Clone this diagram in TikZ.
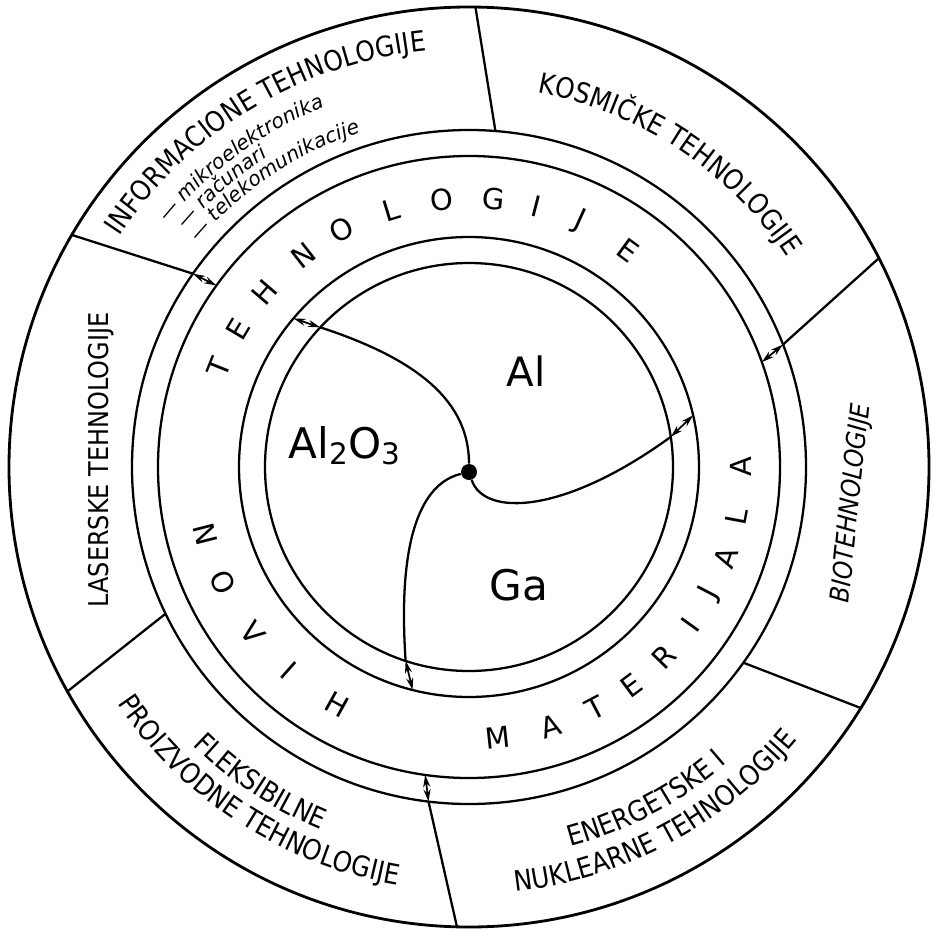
\documentclass[tikz,border=0pt]{standalone}
\usepackage{fontspec}
\setmainfont{DejaVu Sans}
\newfontfamily\techfont[FakeStretch=0.88]{DejaVu Sans}
\usetikzlibrary{arrows.meta,decorations.text}
\newcommand{\lblfont}{\techfont\fontsize{16}{19}\selectfont}
\newcommand{\subfont}{\itshape\fontsize{11.5}{13}\selectfont}

\begin{document}
\begin{tikzpicture}[
  ring/.style={line width=1.3pt},
  ringltr/.style={font=\fontsize{16.5}{19}\selectfont, inner sep=0pt},
  link/.style={{Stealth[length=7pt,width=4pt]}-{Stealth[length=7pt,width=4pt]}, line width=1pt},
  curvelbl/.style={decorate, decoration={text along path, text align=center, text={#1}}},
  sublbl/.style={decorate, decoration={text along path, text={#1}}}
]
  \fill[white] (-9.38,-9.22) rectangle (9.28,9.34);

  % rings
  \draw[line width=1.6pt] (0,0) circle[radius=9.2];
  \foreach \r in {6.74,6.22,4.6,4.08}
    \draw[ring] (0,0) circle[radius=\r];

  % sector borders (outer ring)
  \coordinate (oA) at (149.7:9.2);  \coordinate (mA) at (145:6.74);   \coordinate (iA) at (144.3:6.22);
  \coordinate (oB) at (89.2:9.2);   \coordinate (mB) at (85.5:6.74);
  \coordinate (oC) at (27:9.2);     \coordinate (mC) at (21.3:6.74);  \coordinate (iC) at (19.7:6.22);
  \coordinate (oD) at (-31.6:9.2);  \coordinate (mD) at (-35.5:6.74);
  \coordinate (oE) at (268.5:9.2);  \coordinate (mE) at (263.1:6.74); \coordinate (iE) at (261.9:6.22);
  \coordinate (oF) at (209.2:9.2);  \coordinate (mF) at (205.8:6.74);
  \draw[ring] (oA) -- (mA);  \draw[link] (mA) -- (iA);
  \draw[ring] (oB) -- (mB);
  \draw[ring] (oC) -- (mC);  \draw[link] (mC) -- (iC);
  \draw[ring] (oD) -- (mD);
  \draw[ring] (oE) -- (mE);  \draw[link] (mE) -- (iE);
  \draw[ring] (oF) -- (mF);

  % core: three materials meeting at the hub
  \node[circle, fill, inner sep=0pt, minimum size=0.32cm] (hub) at (0,-0.1) {};
  \coordinate (a5) at (136.8:4.08); \coordinate (a4) at (139.75:4.6);
  \coordinate (b5) at (8.5:4.08);   \coordinate (b4) at (13:4.6);
  \coordinate (c5) at (251.9:4.08); \coordinate (c4) at (255.8:4.6);
  \draw[ring] (hub) .. controls (0,1.3) and (-1.0,2.15) .. (a5);
  \draw[ring] (hub) .. controls (0.3,-1.0) and (1.9,-0.95) .. (b5);
  \draw[ring] (hub) .. controls (-0.85,-0.3) and (-1.45,-1.2) .. (c5);
  \draw[link] (a5) -- (a4);
  \draw[link] (b5) -- (b4);
  \draw[link] (c5) -- (c4);

  \node[font=\fontsize{23}{27}\selectfont, anchor=base] (al) at (1.14,1.62) {Al};
  \node[font=\fontsize{24}{28}\selectfont, anchor=base] (alo) at (-2.48,0.18) {Al\textsubscript{2}O\textsubscript{3}};
  \node[font=\fontsize{24}{28}\selectfont, anchor=base] (ga) at (1.0,-2.66) {Ga};

  % middle ring lettering
  \foreach \ch/\ang [count=\i] in {T/158.3,E/149.3,H/139.4,N/128.1,O/118.2,L/106.9,O/95.8,G/84.8,I/75.6,J/65.8,E/53.8}
    \node[ringltr, rotate=\ang-90] (t\i) at (\ang:5.38) {\ch};
  \foreach \ch/\ang [count=\i] in {N/194.3,O/205,V/217.5,I/228.5,H/241,M/276.1,A/287.5,T/297.6,E/306.7,R/315.7,I/324.5,J/332.4,A/340.5,L/349.5,A/360}
    \node[ringltr, rotate=\ang+90] (b\i) at (\ang:5.44) {\ch};

  % outer sectors
  \path[curvelbl={|\lblfont|INFORMACIONE TEHNOLOGIJE}] (156.25:8.37) arc[start angle=156.25, end angle=86.25, radius=8.37];
  \path[sublbl={|\subfont|— mikroelektronika}] (141:7.76) arc[start angle=141, end angle=95, radius=7.76];
  \path[sublbl={|\subfont|— računari}] (140:7.40) arc[start angle=140, end angle=100, radius=7.40];
  \path[sublbl={|\subfont|— telekomunikacije}] (140.3:7.04) arc[start angle=140.3, end angle=95, radius=7.04];
  \path[curvelbl={|\lblfont|KOSMIČKE TEHNOLOGIJE}] (86.5:7.61) arc[start angle=86.5, end angle=26.5, radius=7.61];
  \node[rotate=84, font=\techfont\fontsize{15}{18}\selectfont\itshape] (bio) at (7.66,-0.72) {BIOTEHNOLOGIJE};
  \path[curvelbl={|\lblfont|ENERGETSKE I}] (278:7.86) arc[start angle=278, end angle=318, radius=7.86];
  \path[curvelbl={|\lblfont|NUKLEARNE TEHNOLOGIJE}] (268.25:8.54) arc[start angle=268.25, end angle=328.25, radius=8.54];
  \path[curvelbl={|\lblfont|FLEKSIBILNE}] (216.5:7.84) arc[start angle=216.5, end angle=256.5, radius=7.84];
  \path[curvelbl={|\lblfont|PROIZVODNE TEHNOLOGIJE}] (207.1:8.48) arc[start angle=207.1, end angle=267.1, radius=8.48];
  \node[rotate=90, font=\techfont\fontsize{15.5}{18}\selectfont] (laser) at (-7.36,0.14) {LASERSKE TEHNOLOGIJE};
\end{tikzpicture}
\end{document}
